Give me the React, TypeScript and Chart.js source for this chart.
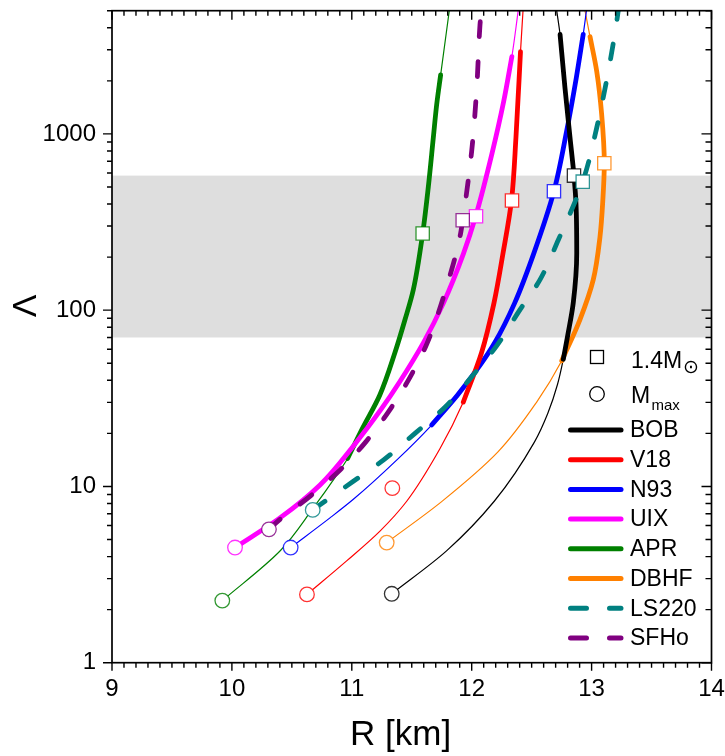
import React, { useEffect, useRef } from 'react';
import { Chart, registerables } from 'chart.js';
Chart.register(...registerables);

const FONT = '"Liberation Sans", Arial, sans-serif';

const xMin = 9;
const xMax = 14;
const yMin = 1;
const yMax = 5000;
const xTickVals = [9, 10, 11, 12, 13, 14];
const yTickVals = [1, 10, 100, 1000];
const bandLow = 70;
const bandHigh = 580;

// Curves (R [km], Lambda), thick segment given as [startIndex, endIndex]
const bobR = [11.333, 11.79, 12.188, 12.524, 12.635, 12.716, 12.764, 12.80, 12.847, 12.876, 12.87, 12.853, 12.82, 12.778, 12.737, 12.709];
const bobL = [2.46, 4.31, 8.24, 17.9, 26, 38, 52.7, 71.4, 110, 210, 400, 580, 953, 1820, 3668, 5000];
const bobThick = [6, 14];

const v18R = [10.626, 10.957, 11.235, 11.458, 11.736, 11.93, 12.082, 12.186, 12.261, 12.332, 12.369, 12.407, 12.428];
const v18L = [2.44, 3.78, 5.58, 8.24, 16.4, 30.1, 57.3, 110, 210, 419, 953, 2929, 5000];
const v18Thick = [5, 11];

const n93R = [10.49, 10.818, 11.013, 11.374, 11.666, 11.879, 12.067, 12.193, 12.359, 12.518, 12.686, 12.792, 12.872, 12.93, 12.957];
const n93L = [4.5, 6.63, 8.45, 14.1, 22.3, 32.8, 48.4, 65.5, 110, 210, 473, 1038, 2074, 3668, 5000];
const n93Thick = [4, 13];

const uixR = [10.026, 10.401, 10.735, 11.02, 11.248, 11.397, 11.598, 11.765, 11.932, 12.033, 12.168, 12.267, 12.335, 12.388];
const uixL = [4.5, 6.63, 10.2, 17.2, 27.6, 39, 65.5, 110, 210, 341, 768, 1531, 2744, 5000];
const uixThick = [0, 12];

const aprR = [9.92, 10.401, 10.679, 10.874, 10.965, 11.088, 11.232, 11.36, 11.444, 11.513, 11.591, 11.638, 11.68, 11.708, 11.741, 11.813];
const aprL = [2.25, 4.3, 7.55, 11.6, 14.4, 21.3, 32.8, 57.5, 88.5, 130.6, 272, 499, 953, 1468, 2163, 5000];
const aprThick = [4, 14];

const dbhfR = [11.291, 11.752, 12.219, 12.542, 12.751, 12.903, 13.014, 13.07, 13.092, 13.106, 13.084, 13.043, 12.987, 12.945];
const dbhfL = [4.8, 8.23, 15.7, 30.1, 51.6, 88.5, 149, 261, 402, 681, 1289, 2258, 3556, 5000];
const dbhfThick = [4, 12];

const ls220R = [10.674, 11.013, 11.263, 11.527, 11.792, 12.042, 12.208, 12.403, 12.57, 12.722, 12.926, 13.043, 13.139, 13.209, 13.222];
const ls220L = [7.36, 10.7, 14.1, 20, 28.8, 45.4, 62.7, 100.7, 149, 250, 536, 1085, 2258, 4317, 5000];
const ls220Thick = [0, 14];

const sfhoR = [10.309, 10.401, 10.651, 10.902, 11.117, 11.304, 11.485, 11.624, 11.832, 11.902, 11.925, 12.0, 12.042, 12.069, 12.08];
const sfhoL = [5.71, 6.5, 8.79, 12.4, 17.9, 26.4, 41.6, 64, 169, 261, 324, 801, 1823, 4137, 5000];
const sfhoThick = [0, 14];

const names = ['BOB', 'V18', 'N93', 'UIX', 'APR', 'DBHF', 'LS220', 'SFHo'];
const colors = ['#000000', '#ff0000', '#0000ff', '#ff00ff', '#008000', '#ff8000', '#008080', '#800080'];
const dashed = [false, false, false, false, false, false, true, true];

// 1.4 Msun markers (squares), Mmax markers (circles)
const sqR = [12.853, 12.336, 12.686, 12.036, 11.591, 13.106, 12.926, 11.925];
const sqL = [580, 419, 473, 341, 272, 681, 536, 324];
const maxR = [11.333, 10.626, 10.49, 10.026, 9.92, 11.291, 10.674, 10.309];
const maxL = [2.46, 2.44, 4.5, 4.5, 2.25, 4.8, 7.36, 5.71];
const extraR = [11.338];
const extraL = [9.78];
const extraColors = ['#ff0000'];

const curveR = [bobR, v18R, n93R, uixR, aprR, dbhfR, ls220R, sfhoR];
const curveL = [bobL, v18L, n93L, uixL, aprL, dbhfL, ls220L, sfhoL];
const thickIdx = [bobThick, v18Thick, n93Thick, uixThick, aprThick, dbhfThick, ls220Thick, sfhoThick];

const pts = (R: number[], L: number[]) => R.map((r, i) => ({ x: r, y: L[i] }));
const soft = (c: string) => c + 'cc';

const bandPlugin = {
  id: 'band',
  beforeDatasetsDraw(chart: any) {
    const { ctx, chartArea: a, scales } = chart;
    const y1 = scales.y.getPixelForValue(bandHigh);
    const y2 = scales.y.getPixelForValue(bandLow);
    ctx.save();
    ctx.fillStyle = '#dedede';
    ctx.fillRect(a.left, y1, a.right - a.left, y2 - y1);
    ctx.restore();
  },
};

const framePlugin = {
  id: 'frame',
  afterDraw(chart: any) {
    const { ctx, chartArea: a, scales } = chart;
    const xs = scales.x;
    const ys = scales.y;
    ctx.save();
    // legend
    ctx.fillStyle = '#000';
    ctx.strokeStyle = '#000';
    ctx.lineWidth = 1.3;
    ctx.strokeRect(597 - 6.5, 357 - 6.5, 13, 13);
    ctx.beginPath();
    ctx.arc(597, 394, 7.3, 0, Math.PI * 2);
    ctx.stroke();
    ctx.textAlign = 'left';
    ctx.textBaseline = 'alphabetic';
    ctx.font = `23px ${FONT}`;
    ctx.fillText('1.4M', 631, 368.3);
    ctx.fillText('M', 631, 403.3);
    ctx.font = `15px ${FONT}`;
    ctx.fillText('max', 651.5, 410);
    ctx.font = `19px "DejaVu Sans", sans-serif`;
    ctx.textAlign = 'center';
    ctx.textBaseline = 'middle';
    ctx.fillText('\u2299', 691, 368);
    ctx.textAlign = 'left';
    ctx.textBaseline = 'middle';
    names.forEach((n, i) => {
      const y = 430 + i * 29.7;
      ctx.strokeStyle = colors[i];
      ctx.lineWidth = 5;
      ctx.lineCap = 'round';
      ctx.setLineDash(dashed[i] ? [16, 23] : []);
      ctx.beginPath();
      ctx.moveTo(570.5, y);
      ctx.lineTo(621, y);
      ctx.stroke();
      ctx.setLineDash([]);
      ctx.font = `23px ${FONT}`;
      ctx.fillStyle = '#000';
      ctx.fillText(n, 630, y + 1);
    });

    // frame
    ctx.strokeStyle = '#000';
    ctx.lineCap = 'butt';
    ctx.lineWidth = 1.7;
    ctx.strokeRect(a.left, a.top, a.right - a.left, a.bottom - a.top);
    ctx.lineWidth = 1.4;
    ctx.beginPath();
    for (let i = 0; i <= (xMax - xMin) * 10; i++) {
      const px = xs.getPixelForValue(xMin + i * 0.1);
      const major = i % 10 === 0;
      ctx.moveTo(px, a.bottom);
      ctx.lineTo(px, a.bottom + (major ? 8 : 5));
      ctx.moveTo(px, a.top);
      ctx.lineTo(px, a.top + (major ? 9 : 5));
    }
    for (let d = 1; d <= 1000; d *= 10) {
      for (let k = 1; k <= 9; k++) {
        const v = d * k;
        if (v > yMax) break;
        const py = ys.getPixelForValue(v);
        const major = k === 1;
        ctx.moveTo(a.left, py);
        ctx.lineTo(a.left - (major ? 9 : 5), py);
        ctx.moveTo(a.right, py);
        ctx.lineTo(a.right - (major ? 10 : 6), py);
      }
    }
    ctx.stroke();

    // axis titles
    ctx.fillStyle = '#000';
    ctx.font = `35px ${FONT}`;
    ctx.textAlign = 'left';
    ctx.textBaseline = 'alphabetic';
    ctx.fillText('R [km]', 350, 745);
    ctx.save();
    ctx.translate(36, 305.8);
    ctx.rotate(-Math.PI / 2);
    ctx.font = `34px ${FONT}`;
    ctx.textAlign = 'center';
    ctx.fillText('\u039B', 0, 0);
    ctx.restore();
    ctx.restore();
  },
};

export default function App() {
  const ref = useRef<HTMLCanvasElement>(null);
  useEffect(() => {
    const datasets: any[] = [];
    datasets.push({
      data: pts(sqR, sqL), showLine: false, pointStyle: 'rect', pointRadius: 9.4,
      pointBackgroundColor: '#ffffff', pointBorderColor: colors.map(soft), pointBorderWidth: 1.3, order: 0,
    });
    datasets.push({
      data: pts(maxR, maxL), showLine: false, pointStyle: 'circle', pointRadius: 7.3,
      pointBackgroundColor: '#ffffff', pointBorderColor: colors.map(soft), pointBorderWidth: 1.3, order: 0,
    });
    datasets.push({
      data: pts(extraR, extraL), showLine: false, pointStyle: 'circle', pointRadius: 7.3,
      pointBackgroundColor: '#ffffff', pointBorderColor: extraColors.map(soft), pointBorderWidth: 1.3, order: 0,
    });
    names.forEach((n, i) => {
      const R = curveR[i];
      const L = curveL[i];
      const [s, e] = thickIdx[i];
      if (!dashed[i]) {
        datasets.push({
          data: pts(R, L), borderColor: colors[i], borderWidth: 1.2, pointRadius: 0,
          cubicInterpolationMode: 'monotone', fill: false, order: 3,
        });
      }
      datasets.push({
        label: n,
        data: pts(R.slice(s, e + 1), L.slice(s, e + 1)), borderColor: colors[i], borderWidth: 4.8,
        borderDash: dashed[i] ? [15, 25] : [], borderCapStyle: 'round', pointRadius: 0,
        cubicInterpolationMode: 'monotone', fill: false, order: dashed[i] ? 1 : 2,
      });
    });

    const chart = new Chart(ref.current as HTMLCanvasElement, {
      type: 'line',
      data: { datasets },
      options: {
        animation: false,
        responsive: false,
        devicePixelRatio: 1,
        indexAxis: 'y',
        events: [],
        layout: { padding: { top: 5.7, right: 13.5, left: 0, bottom: 0 } },
        plugins: { legend: { display: false }, tooltip: { enabled: false } },
        scales: {
          x: {
            type: 'linear', position: 'bottom', min: xMin, max: xMax,
            grid: { display: false, drawTicks: false },
            border: { display: false },
            afterBuildTicks: (sc: any) => { sc.ticks = xTickVals.map((v) => ({ value: v })); },
            afterFit: (sc: any) => { sc.height = 93.3; sc.paddingLeft = 0; sc.paddingRight = 0; },
            ticks: { font: { family: FONT, size: 24 }, color: '#000', padding: 12, maxRotation: 0, callback: (v: any) => String(v) },
          },
          y: {
            type: 'logarithmic', position: 'left', min: yMin, max: yMax,
            grid: { display: false, drawTicks: false },
            border: { display: false },
            afterBuildTicks: (sc: any) => { sc.ticks = yTickVals.map((v) => ({ value: v })); },
            afterFit: (sc: any) => { sc.width = 112; sc.paddingTop = 0; sc.paddingBottom = 0; },
            ticks: { font: { family: FONT, size: 24 }, color: '#000', padding: 16, callback: (v: any) => String(v) },
          },
        },
      } as any,
      plugins: [bandPlugin, framePlugin],
    });
    return () => chart.destroy();
  }, []);
  return (
    <div style={{ position: 'absolute', left: 0, top: 0, width: 725, height: 756, background: '#fff' }}>
      <canvas ref={ref} width={725} height={756} style={{ display: 'block', width: 725, height: 756 }} />
    </div>
  );
}
